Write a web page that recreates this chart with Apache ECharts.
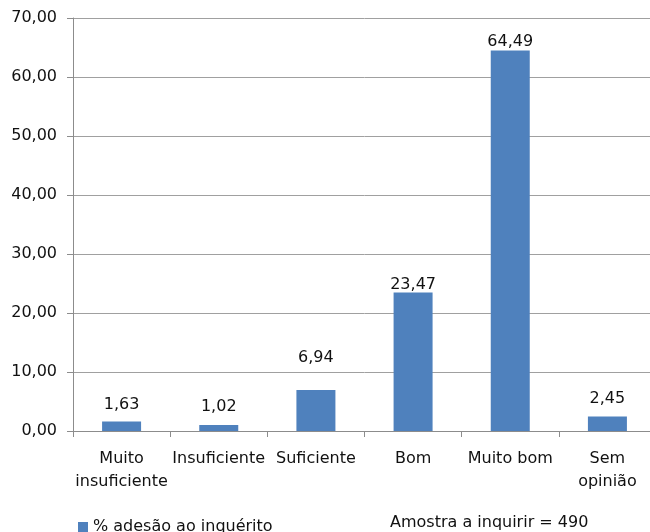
<!DOCTYPE html>
<html>
<head>
<meta charset="utf-8">
<script src="https://cdn.jsdelivr.net/npm/echarts@6/dist/echarts.min.js"></script>
<style>
  html, body { margin: 0; padding: 0; background: #fff; overflow: hidden; }
  /* the plot area runs a little past the right edge of the window */
  #chart { width: 660px; height: 532px; }
</style>
</head>
<body>
<div id="chart"></div>
<script>
// Avaliação do serviço — percentagem de respostas por categoria
const categories = ['Muito\ninsuficiente', 'Insuficiente', 'Suficiente', 'Bom', 'Muito bom', 'Sem\nopinião'];
const adesao = [1.63, 1.02, 6.94, 23.47, 64.49, 2.45];
const seriesName = '% adesão ao inquérito';
const noteText = 'Amostra a inquirir = 490';

// gap between each value label and the top of its bar
const labelGaps = [9, 10, 24, 0, 1, 10];

const FONT = 'DejaVu Sans';
const TEXT = '#111111';
const fmt = v => v.toFixed(2).replace('.', ',');

const chart = echarts.init(document.getElementById('chart'), null, { renderer: 'canvas' });

chart.setOption({
  animation: false,
  backgroundColor: '#ffffff',
  textStyle: { fontFamily: FONT },
  grid: { left: 73, top: 18, width: 583, height: 413, containLabel: false },
  legend: {
    data: [seriesName],
    left: 73,
    top: 514,
    icon: 'rect',
    itemWidth: 10,
    itemHeight: 10,
    itemGap: 10,
    textStyle: { fontFamily: FONT, fontSize: 16, color: TEXT, padding: [0, 0, 0, 0] }
  },
  xAxis: {
    type: 'category',
    data: categories,
    boundaryGap: true,
    axisLine: { lineStyle: { color: '#8c8c8c', width: 1 } },
    axisTick: { show: true, length: 6, alignWithLabel: false, lineStyle: { color: '#8c8c8c' } },
    axisLabel: {
      interval: 0,
      margin: 16,
      fontFamily: FONT,
      fontSize: 16,
      lineHeight: 23,
      color: TEXT
    }
  },
  yAxis: {
    type: 'value',
    min: 0,
    max: 70,
    interval: 10,
    axisLine: { show: true, lineStyle: { color: '#8c8c8c', width: 1 } },
    axisTick: { show: true, length: 6, lineStyle: { color: '#8c8c8c' } },
    splitLine: { show: true, lineStyle: { color: '#a0a0a0', width: 1 } },
    axisLabel: {
      margin: 16,
      fontFamily: FONT,
      fontSize: 16,
      color: TEXT,
      formatter: v => fmt(v)
    }
  },
  series: [{
    name: seriesName,
    type: 'bar',
    barWidth: 39,
    itemStyle: { color: '#4f81bd' },
    data: adesao.map((v, i) => ({
      value: v,
      label: { distance: labelGaps[i] }
    })),
    label: {
      show: true,
      position: 'top',
      fontFamily: FONT,
      fontSize: 16,
      color: TEXT,
      formatter: p => fmt(p.value)
    }
  }],
  graphic: [{
    type: 'text',
    left: 390,
    top: 515,
    style: {
      text: noteText,
      font: '16px "DejaVu Sans"',
      fill: TEXT
    }
  }]
});
</script>
</body>
</html>
